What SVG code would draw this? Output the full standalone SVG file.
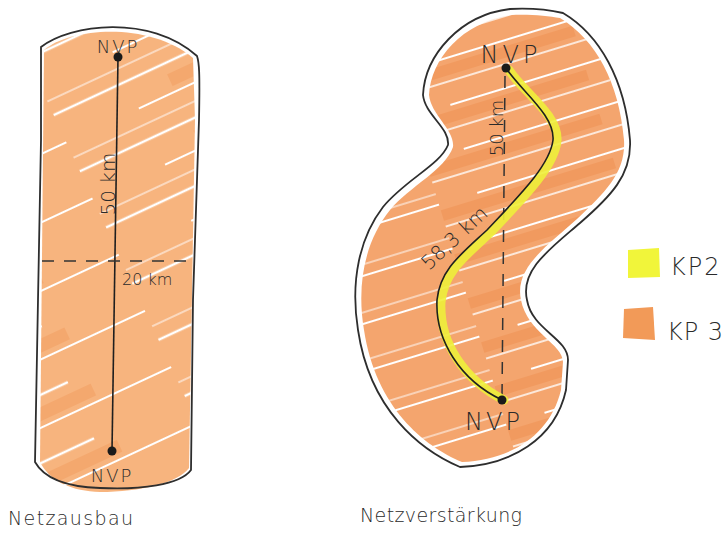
<svg xmlns="http://www.w3.org/2000/svg" width="728" height="535" viewBox="0 0 728 535">
<style>
.outline{fill:none;stroke:#2e2e2e;stroke-width:1.8;stroke-linejoin:round;stroke-linecap:round}
.txt{font-family:"DejaVu Sans","Liberation Sans",sans-serif;fill:#2a2a2a;font-weight:300}
.route{fill:none;stroke:#1f1f1f;stroke-width:1.6}
.dash{fill:none;stroke:#333;stroke-width:1.5;stroke-dasharray:12 10}
.dot{fill:#1a1a1a}
.hl{fill:none;stroke:#EEF03A;stroke-width:9;stroke-linecap:round;opacity:0.9}
</style>
<defs>
<pattern id="hatchL" patternUnits="userSpaceOnUse" width="360" height="62" patternTransform="rotate(-25)">
<rect width="360" height="62" fill="#F7B47E"/>
<rect x="120" y="14" width="160" height="13" fill="#F29C5E" opacity="0.5"/>
<line x1="0" y1="3" x2="260" y2="3" stroke="#fff" stroke-width="2.4"/>
<line x1="80" y1="33" x2="360" y2="33" stroke="#fff" stroke-width="1.8"/>
<line x1="0" y1="50" x2="150" y2="50" stroke="#fff" stroke-width="1.2"/>
</pattern>
<pattern id="hatchR" patternUnits="userSpaceOnUse" width="360" height="46" patternTransform="rotate(-17)">
<rect width="360" height="46" fill="#F4A56E"/>
<rect x="0" y="8" width="180" height="11" fill="#EF9152" opacity="0.55"/>
<line x1="40" y1="2" x2="360" y2="2" stroke="#fff" stroke-width="2"/>
<line x1="0" y1="25" x2="200" y2="25" stroke="#fff" stroke-width="1.5"/>
<line x1="220" y1="37" x2="360" y2="37" stroke="#fff" stroke-width="1.2"/>
</pattern>
<clipPath id="clipL">
<path d="M44,50 C72,27 150,22 193,58 L195,120 L189,468 C178,483 140,492 100,492 C72,491 50,482 40,462 Z"/>
</clipPath>
<clipPath id="clipR">
<path d="M560,18 C596,40 619,82 624,140 C626,172 606,192 577,219 C547,246 514,268 521,300 C527,332 563,344 563,362 L561,390 C550,436 510,460 462,462 C424,446 376,408 364,330 C356,282 366,240 390,210 C410,186 445,170 453,147 C455,130 431,115 429,95 C431,58 463,22 511,15 C530,14 548,16 560,18 Z"/>
</clipPath>
</defs>

<g id="netzausbau">
<rect x="30" y="15" width="175" height="485" fill="url(#hatchL)" clip-path="url(#clipL)"/>
<path class="outline" d="M41,140 L41,47 C70,24 150,14 197,56 C199,62 200,70 199,120 L193,300 L191,470 C180,485 140,490 100,488 C70,487 45,480 35,462 L38,300 Z"/>
</g>

<g id="netzverstaerkung">
<rect x="345" y="5" width="290" height="470" fill="url(#hatchR)" clip-path="url(#clipR)"/>
<path class="outline" d="M563,13 C600,35 625,80 630,140 C632,175 610,197 580,223 C550,249 520,270 527,300 C532,330 568,338 568,360 L566,390 C555,440 510,465 460,467 C420,450 370,410 358,330 C350,280 360,237 383,207 C405,180 440,165 448,145 C450,128 425,115 423,95 C425,55 460,15 510,9 C530,8 550,10 563,13 Z"/>
</g>

<g id="connectors">
<line class="route" x1="118" y1="57" x2="112" y2="451"/>
<line class="dash" x1="42" y1="261" x2="194" y2="261" stroke-dasharray="14 10"/>
<line class="dash" x1="505" y1="76" x2="502" y2="398"/>
<path class="hl" d="M509,70 C523,92 559,115 557,141 C554,167 524,197 491,232 C464,257 444,272 441,302 C439,342 464,380 504,400"/>
<path class="route" d="M506,68 C520,90 555,115 553,140 C550,165 520,195 487,230 C460,255 440,270 437,300 C435,340 460,380 502,400" stroke-width="2"/>
</g>

<g id="nvp-left-top"><circle class="dot" cx="118" cy="57" r="4.5"/><text class="txt" x="118" y="53" font-size="18" text-anchor="middle" letter-spacing="2">NVP</text></g>
<g id="nvp-left-bottom"><circle class="dot" cx="112" cy="451" r="4.5"/><text class="txt" x="112" y="482" font-size="18" text-anchor="middle" letter-spacing="2">NVP</text></g>
<g id="nvp-right-top"><circle class="dot" cx="506" cy="68" r="4.5"/><text class="txt" x="511" y="63" font-size="24" text-anchor="middle" letter-spacing="4">NVP</text></g>
<g id="nvp-right-bottom"><circle class="dot" cx="502" cy="400" r="4.5"/><text class="txt" x="494" y="430" font-size="24" text-anchor="middle" letter-spacing="3">NVP</text></g>

<g id="labels">
<text class="txt" font-size="20" text-anchor="middle" transform="translate(115,184) rotate(-90)">50 km</text>
<text class="txt" x="122" y="285" font-size="16">20 km</text>
<text class="txt" font-size="18" text-anchor="middle" transform="translate(503,128) rotate(-90)">50 km</text>
<text class="txt" font-size="20" text-anchor="middle" transform="translate(459,243) rotate(-43)">58,3 km</text>
<text class="txt" x="8" y="525" font-size="19" textLength="125">Netzausbau</text>
<text class="txt" x="360" y="522" font-size="19" textLength="162">Netzverstärkung</text>
</g>

<g id="legend">
<g id="legend-kp2"><path d="M628,250 L659,248 L660,277 L628,278 Z" fill="#F1F53A"/><text class="txt" x="670" y="275" font-size="24" letter-spacing="2">KP2</text></g>
<g id="legend-kp3"><path d="M624,309 L653,307 L655,340 L623,338 Z" fill="#F29A58"/><text class="txt" x="667" y="340" font-size="24" letter-spacing="1">KP 3</text></g>
</g>
</svg>
